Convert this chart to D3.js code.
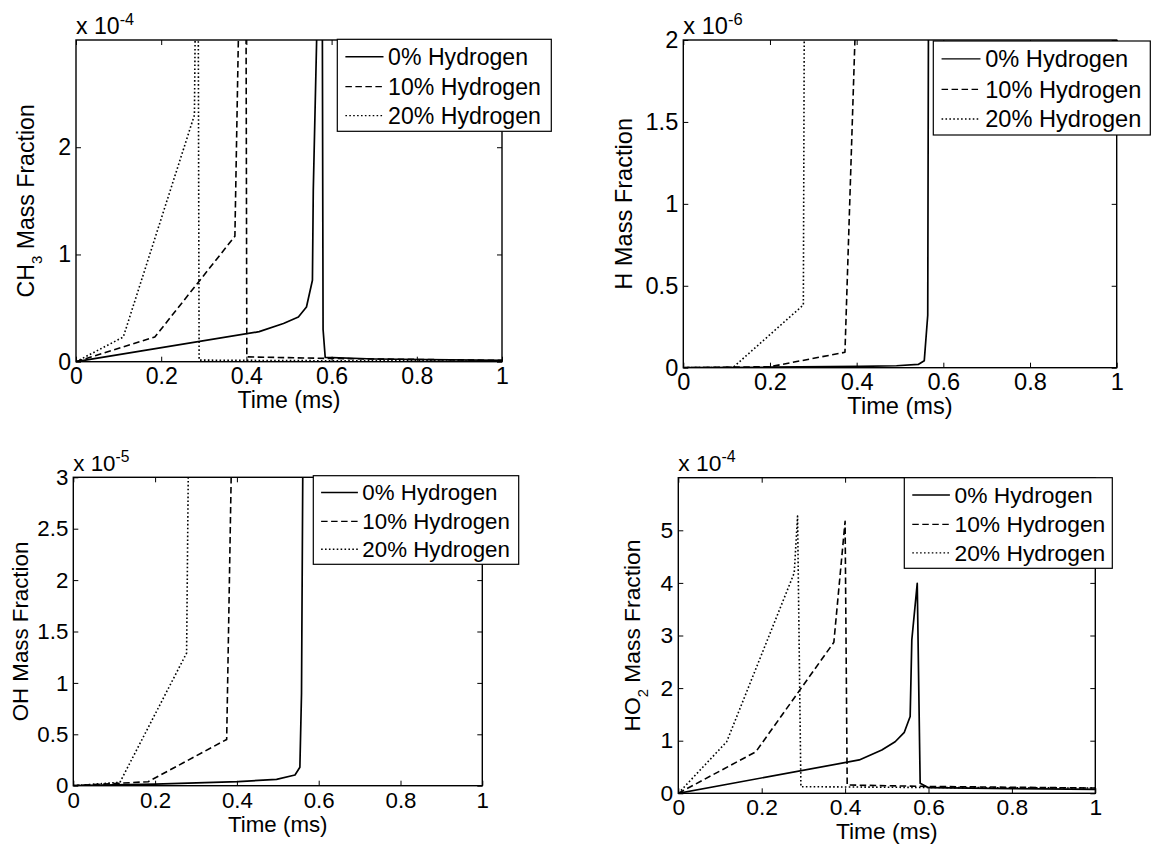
<!DOCTYPE html>
<html><head><meta charset="utf-8">
<script src="https://cdnjs.cloudflare.com/ajax/libs/d3/7.8.5/d3.min.js"></script>
<style>
body{margin:0;background:#fff;}
svg{display:block;}
text{font-family:"Liberation Sans",Arial,Helvetica,sans-serif;fill:#000;}
</style>
</head><body>
<svg id="chart" width="1151" height="852"></svg>
<script>
// ---------- DATA ----------
const seriesNames = ["0% Hydrogen", "10% Hydrogen", "20% Hydrogen"];
const timeTicks = [0, 0.2, 0.4, 0.6, 0.8, 1];
const timeTickLabels = ["0", "0.2", "0.4", "0.6", "0.8", "1"];
const xLabel = "Time (ms)";

// CH3 mass fraction (x 10^-4), [time ms, value]
const ch3Ticks = [0, 1, 2];
const ch3TickLabels = ["0", "1", "2"];
const ch3H0  = [[0,0],[0.43,0.28],[0.487,0.356],[0.522,0.417],[0.541,0.51],[0.555,0.76],[0.557,1.6],[0.566,3.2],[0.572,4.0],[0.578,3.6],[0.58,0.3],[0.585,0.04],[0.7,0.025],[1,0.012]];
const ch3H10 = [[0,0],[0.185,0.23],[0.373,1.17],[0.382,3.2],[0.39,4.0],[0.399,3.5],[0.401,0.045],[0.6,0.03],[1,0.012]];
const ch3H20 = [[0,0],[0.111,0.23],[0.278,2.3],[0.28,3.2],[0.284,4.0],[0.287,3.2],[0.289,0.015],[0.5,0.01],[1,0.006]];

// H mass fraction (x 10^-6)
const hTicks = [0, 0.5, 1, 1.5, 2];
const hTickLabels = ["0", "0.5", "1", "1.5", "2"];
const hH0  = [[0,0],[0.2,0.003],[0.408,0.008],[0.492,0.012],[0.542,0.02],[0.556,0.043],[0.564,0.32],[0.566,2.5],[0.6,3.0],[1,3.0]];
const hH10 = [[0,0],[0.2,0.006],[0.373,0.094],[0.396,2.0],[0.4,2.5],[1,3.0]];
const hH20 = [[0,0],[0.115,0.002],[0.277,0.383],[0.279,2.0],[0.285,2.6],[1,3.0]];

// OH mass fraction (x 10^-5)
const ohTicks = [0, 0.5, 1, 1.5, 2, 2.5, 3];
const ohTickLabels = ["0", "0.5", "1", "1.5", "2", "2.5", "3"];
const ohH0  = [[0,0],[0.2,0.015],[0.403,0.039],[0.497,0.062],[0.542,0.104],[0.554,0.18],[0.558,0.9],[0.561,3.0],[0.565,4.0],[1,4.0]];
const ohH10 = [[0,0],[0.183,0.039],[0.375,0.45],[0.386,3.0],[0.39,4.0],[1,4.0]];
const ohH20 = [[0,0],[0.114,0.033],[0.277,1.29],[0.281,3.0],[0.285,4.0],[1,4.0]];

// HO2 mass fraction (x 10^-4)
const ho2Ticks = [0, 1, 2, 3, 4, 5];
const ho2TickLabels = ["0", "1", "2", "3", "4", "5"];
const ho2H0  = [[0,0],[0.434,0.634],[0.488,0.825],[0.52,0.98],[0.542,1.16],[0.556,1.46],[0.56,2.92],[0.573,3.99],[0.58,0.19],[0.6,0.107],[0.8,0.09],[1,0.076]];
const ho2H10 = [[0,0],[0.186,0.79],[0.373,2.87],[0.4,5.17],[0.405,0.158],[0.6,0.13],[1,0.1]];
const ho2H20 = [[0,0],[0.116,0.98],[0.278,4.19],[0.286,5.27],[0.294,0.126],[0.6,0.11],[1,0.1]];

// ---------- LAYOUT ----------
const dashes = [null, "6.5,3.5", "1.6,2.3"];
const widths = [1.7, 1.6, 1.6];

const panels = [
  {id:"ch3", fs:23.1, left:76, right:502, top:40, bottom:361.7, yMax:3, ticks:ch3Ticks, tickLabels:ch3TickLabels,
   exp:"-4", label:[["CH",0],["3",1],[" Mass Fraction",0]], labelX:34, series:[ch3H0,ch3H10,ch3H20],
   legend:{x:337.3, y:39.3, w:214, h:92}},
  {id:"h", fs:23.6, left:683.3, right:1116.7, top:40, bottom:367.7, yMax:2, ticks:hTicks, tickLabels:hTickLabels,
   exp:"-6", label:[["H Mass Fraction",0]], labelX:632, series:[hH0,hH10,hH20],
   legend:{x:933.3, y:41, w:217, h:94}},
  {id:"oh", fs:22.3, left:73.3, right:482.3, top:477.3, bottom:785.7, yMax:3, ticks:ohTicks, tickLabels:ohTickLabels,
   exp:"-5", label:[["OH Mass Fraction",0]], labelX:27.5, series:[ohH0,ohH10,ohH20],
   legend:{x:313.3, y:475.7, w:205.4, h:88.6}},
  {id:"ho2", fs:22.8, left:678.3, right:1095.3, top:477.7, bottom:793.3, yMax:6, ticks:ho2Ticks, tickLabels:ho2TickLabels,
   exp:"-4", label:[["HO",0],["2",1],[" Mass Fraction",0]], labelX:640, series:[ho2H0,ho2H10,ho2H20],
   legend:{x:904.3, y:477.7, w:208, h:90.6}}
];

const svg = d3.select("#chart");
const defs = svg.append("defs");

panels.forEach(p => {
  const fs = p.fs;
  const x = d3.scaleLinear().domain([0, 1]).range([p.left, p.right]);
  const y = d3.scaleLinear().domain([0, p.yMax]).range([p.bottom, p.top]);
  const g = svg.append("g").attr("class", "panel-" + p.id);

  defs.append("clipPath").attr("id", "clip-" + p.id)
    .append("rect").attr("x", p.left).attr("y", p.top)
    .attr("width", p.right - p.left).attr("height", p.bottom - p.top);

  // data lines
  const line = d3.line().x(d => x(d[0])).y(d => y(d[1]));
  const lg = g.append("g").attr("clip-path", `url(#clip-${p.id})`);
  p.series.forEach((s, i) => {
    lg.append("path").datum(s).attr("d", line)
      .attr("fill", "none").attr("stroke", "#000")
      .attr("stroke-width", widths[i])
      .attr("stroke-linejoin", "round")
      .attr("stroke-dasharray", dashes[i]);
  });

  // axes
  const tickLen = 5;
  const styleAxis = sel => {
    sel.select(".domain").remove();
    sel.selectAll(".tick line").attr("stroke", "#000").attr("stroke-width", 1);
    sel.selectAll("text").attr("font-size", fs).attr("fill", "#000");
    sel.attr("font-family", null).attr("font-size", null);
  };
  g.append("g").attr("transform", `translate(0,${p.bottom})`)
    .call(d3.axisBottom(x).tickValues(timeTicks).tickFormat((d, i) => timeTickLabels[i])
      .tickSizeInner(-tickLen).tickSizeOuter(0).tickPadding(22 - 0.71 * fs))
    .call(styleAxis);
  g.append("g").attr("transform", `translate(0,${p.top})`)
    .call(d3.axisTop(x).tickValues(timeTicks).tickFormat("").tickSizeInner(-tickLen).tickSizeOuter(0))
    .call(styleAxis);
  g.append("g").attr("transform", `translate(${p.left},0)`)
    .call(d3.axisLeft(y).tickValues(p.ticks).tickFormat((d, i) => p.tickLabels[i])
      .tickSizeInner(-tickLen).tickSizeOuter(0).tickPadding(5))
    .call(styleAxis);
  g.append("g").attr("transform", `translate(${p.right},0)`)
    .call(d3.axisRight(y).tickValues(p.ticks).tickFormat("").tickSizeInner(-tickLen).tickSizeOuter(0))
    .call(styleAxis);

  // box
  g.append("rect").attr("x", p.left).attr("y", p.top)
    .attr("width", p.right - p.left).attr("height", p.bottom - p.top)
    .attr("fill", "none").attr("stroke", "#000").attr("stroke-width", 1.4);

  // exponent label
  const et = g.append("text").attr("x", p.left).attr("y", p.top - 6.5).attr("font-size", fs);
  et.append("tspan").text("x 10");
  et.append("tspan").attr("font-size", fs * 0.7).attr("dy", -9).text(p.exp);

  // x label
  g.append("text").attr("x", (p.left + p.right) / 2).attr("y", p.bottom + 46)
    .attr("text-anchor", "middle").attr("font-size", fs).text(xLabel);

  // y label
  const yl = g.append("text")
    .attr("transform", `translate(${p.labelX},${(p.top + p.bottom) / 2}) rotate(-90)`)
    .attr("text-anchor", "middle").attr("font-size", fs);
  let shifted = false;
  p.label.forEach(([txt, sub]) => {
    const t = yl.append("tspan").text(txt);
    if (sub) { t.attr("font-size", fs * 0.65).attr("dy", 8); shifted = true; }
    else if (shifted) { t.attr("dy", -8); shifted = false; }
  });

  // legend
  const L = p.legend;
  const leg = g.append("g");
  leg.append("rect").attr("x", L.x).attr("y", L.y).attr("width", L.w).attr("height", L.h)
    .attr("fill", "#fff").attr("stroke", "#000").attr("stroke-width", 1.2);
  const rowPos = [0.19, 0.515, 0.83];
  seriesNames.forEach((name, i) => {
    const ry = L.y + L.h * rowPos[i];
    leg.append("line").attr("x1", L.x + 0.35 * fs).attr("x2", L.x + 2.0 * fs).attr("y1", ry).attr("y2", ry)
      .attr("stroke", "#000").attr("stroke-width", widths[i] * 0.85).attr("stroke-dasharray", dashes[i]);
    leg.append("text").attr("x", L.x + 2.2 * fs).attr("y", ry).attr("dy", "0.35em")
      .attr("font-size", fs).text(name);
  });
});
</script>
</body></html>
